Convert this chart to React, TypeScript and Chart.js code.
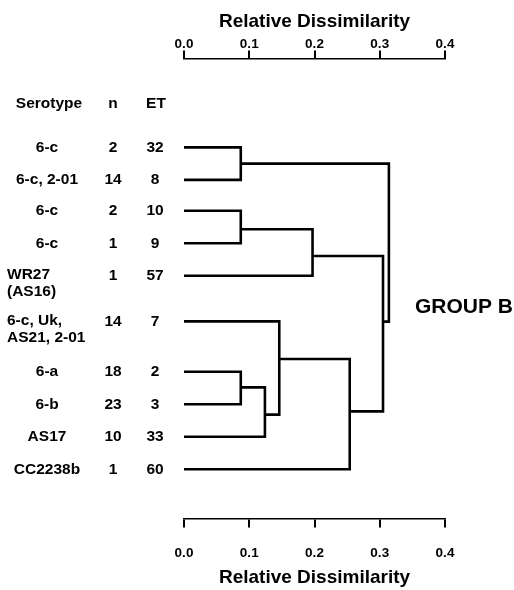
import { useEffect, useRef } from "react";
import { Chart, registerables } from "chart.js";

Chart.register(...registerables);

// ---- data ----
const serotypes: (string | string[])[] = [
  "6-c",
  "6-c, 2-01",
  "6-c",
  "6-c",
  ["WR27", "(AS16)"],
  ["6-c, Uk,", "AS21, 2-01"],
  "6-a",
  "6-b",
  "AS17",
  "CC2238b",
];
const isolateCounts = [2, 14, 2, 1, 1, 14, 18, 23, 10, 1];
const etNumbers = [32, 8, 10, 9, 57, 7, 2, 3, 33, 60];
// vertical position of each leaf (row units)
const leafRows = [1, 2, 2.95, 3.95, 4.95, 6.35, 7.9, 8.9, 9.9, 10.9];
// merges: nodes 0-9 are leaves, node 10+k is merge k
const mergeLeft = [0, 2, 11, 6, 13, 5, 15, 12, 10];
const mergeRight = [1, 3, 4, 7, 8, 14, 9, 16, 17];
const mergeHeights = [0.087, 0.087, 0.197, 0.087, 0.124, 0.146, 0.254, 0.305, 0.314];
const mergeRows = [1.5, 3.52, 4.34, 8.38, 9.22, 7.51, 9.12, 6.36, 3.9];
const xTicks = [0, 0.1, 0.2, 0.3, 0.4];
const axisTitle = "Relative Dissimilarity";
const columnHeaders = ["Serotype", "n", "ET"];
const groupLabel = "GROUP B";

const HEADER_ROW = -0.34;
const GROUP_ROW = 5.9;
const FONT = "'Liberation Sans', Arial, Helvetica, sans-serif";

function nodeHeight(n: number) {
  return n < leafRows.length ? 0 : mergeHeights[n - leafRows.length];
}
function nodeRow(n: number) {
  return n < leafRows.length ? leafRows[n] : mergeRows[n - leafRows.length];
}

const labelPlugin = {
  id: "dendroLabels",
  afterDraw(chart: any) {
    const ctx = chart.ctx as CanvasRenderingContext2D;
    const ys = chart.scales.y;
    ctx.save();
    ctx.fillStyle = "#000";
    ctx.textBaseline = "middle";
    ctx.font = `bold 15.5px ${FONT}`;
    const hy = ys.getPixelForValue(HEADER_ROW);
    ctx.textAlign = "center";
    ctx.fillText(columnHeaders[0], 49, hy);
    ctx.fillText(columnHeaders[1], 113, hy);
    ctx.fillText(columnHeaders[2], 156, hy);
    serotypes.forEach((s, i) => {
      const py = ys.getPixelForValue(leafRows[i]);
      if (Array.isArray(s)) {
        ctx.textAlign = "left";
        s.forEach((line, j) => ctx.fillText(line, 7, py - 1 + j * 17));
      } else {
        ctx.textAlign = "center";
        ctx.fillText(s, 47, py);
      }
      ctx.textAlign = "center";
      ctx.fillText(String(isolateCounts[i]), 113, py);
      ctx.fillText(String(etNumbers[i]), 155, py);
    });
    ctx.font = `bold 21px ${FONT}`;
    ctx.textAlign = "left";
    ctx.fillText(groupLabel, 415, ys.getPixelForValue(GROUP_ROW));
    ctx.restore();
  },
};

export default function App() {
  const ref = useRef<HTMLCanvasElement | null>(null);
  useEffect(() => {
    if (!ref.current) return;
    const datasets = mergeLeft.map((a, k) => {
      const b = mergeRight[k];
      const H = mergeHeights[k];
      return {
        data: [
          { x: nodeHeight(a), y: nodeRow(a) },
          { x: H, y: nodeRow(a) },
          { x: H, y: nodeRow(b) },
          { x: nodeHeight(b), y: nodeRow(b) },
        ],
        showLine: true,
        borderColor: "#000",
        borderWidth: 2.6,
        pointRadius: 0,
        tension: 0,
        borderJoinStyle: "miter" as const,
        xAxisID: "x",
        yAxisID: "y",
      };
    });

    const tickFont = { family: FONT, size: 13.5, weight: "bold" as const };
    const titleFont = { family: FONT, size: 19, weight: "bold" as const };
    const setTicks = (scale: any) => {
      scale.ticks = xTicks.map((v) => ({ value: v }));
    };

    const chart = new Chart(ref.current, {
      type: "scatter",
      data: { datasets },
      options: {
        animation: false,
        responsive: false,
        layout: { padding: { left: 184, right: 69, top: 6.6, bottom: 0.6 } },
        plugins: { legend: { display: false }, tooltip: { enabled: false } },
        scales: {
          x: {
            type: "linear",
            position: "bottom",
            min: 0,
            max: 0.4,
            afterBuildTicks: setTicks,
            grid: {
              drawOnChartArea: false,
              drawTicks: true,
              tickLength: 26,
              tickBorderDash: [8, 200],
              color: "#000",
              lineWidth: 2,
            },
            border: { display: true, color: "#000", width: 1.5 },
            ticks: {
              padding: 1,
              color: "#000",
              font: tickFont,
              maxRotation: 0,
              callback: (v: any) => Number(v).toFixed(1),
            },
            title: {
              display: true,
              text: axisTitle,
              color: "#000",
              font: titleFont,
              padding: { top: 4, bottom: 0 },
            },
          },
          x2: {
            type: "linear",
            position: "top",
            min: 0,
            max: 0.4,
            afterBuildTicks: setTicks,
            grid: {
              drawOnChartArea: false,
              drawTicks: true,
              tickLength: 8,
              color: "#000",
              lineWidth: 2,
            },
            border: { display: true, color: "#000", width: 1.5 },
            ticks: {
              padding: -2,
              color: "#000",
              font: tickFont,
              maxRotation: 0,
              callback: (v: any) => Number(v).toFixed(1),
            },
            title: {
              display: true,
              text: axisTitle,
              color: "#000",
              font: titleFont,
              padding: { top: 4, bottom: 5 },
            },
          },
          y: {
            type: "linear",
            reverse: true,
            min: -1.73,
            max: 12.41,
            display: false,
          },
        },
      },
      plugins: [labelPlugin],
    });
    return () => chart.destroy();
  }, []);

  return (
    <div
      style={{
        position: "fixed",
        left: 0,
        top: 0,
        width: 514,
        height: 590,
        background: "#fff",
      }}
    >
      <canvas ref={ref} width={514} height={590} style={{ width: 514, height: 590 }} />
    </div>
  );
}
